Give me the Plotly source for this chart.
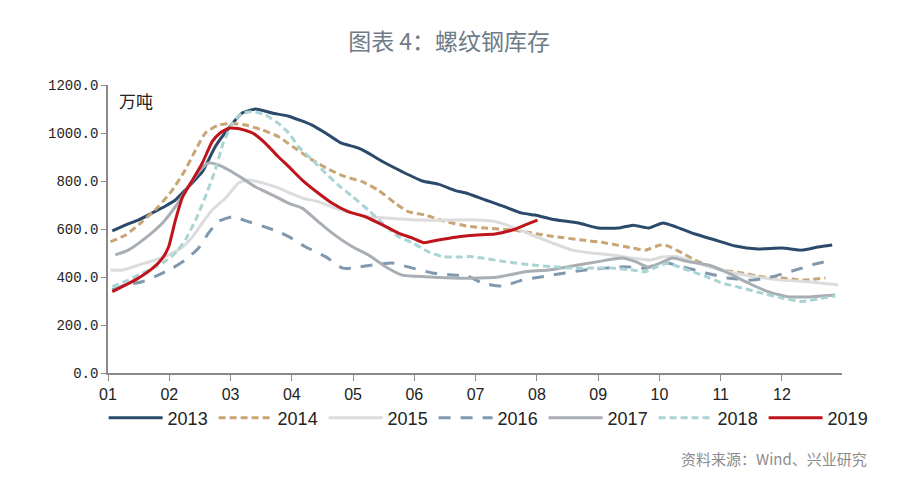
import plotly.graph_objects as go

# x positions in months (1 = start of Jan), values in 万吨
months_2013 = [1.07, 1.29, 1.50, 1.73, 1.94, 2.10, 2.26, 2.54, 2.75, 2.97, 3.19, 3.41, 3.68, 3.95, 4.33, 4.55, 4.79,
               5.09, 5.25, 5.48, 5.80, 6.13, 6.39, 6.67, 6.83, 7.16, 7.32, 7.76, 7.97, 8.25, 8.68, 9.00, 9.33, 9.57,
               9.82, 9.93, 10.06, 10.26, 10.58, 10.91, 11.24, 11.61, 12.00, 12.33, 12.59, 12.82]
inv_2013 = [592, 617, 638, 668, 696, 721, 762, 839, 943, 1020, 1083, 1100, 1083, 1070, 1033, 1000, 960,
            937, 916, 881, 839, 800, 787, 760, 751, 721, 707, 666, 658, 641, 625, 604, 604, 616,
            604, 614, 625, 610, 579, 554, 529, 517, 521, 512, 525, 533]

months_2014 = [1.04, 1.29, 1.56, 1.82, 2.05, 2.26, 2.43, 2.59, 2.80, 3.03, 3.24, 3.52, 3.78, 3.95, 4.34, 4.60, 4.87,
               5.15, 5.41, 5.69, 5.90, 6.18, 6.51, 6.91, 7.16, 7.60, 7.92, 8.30, 8.74, 9.12, 9.56, 9.77, 10.01,
               10.14, 10.37, 10.58, 10.80, 11.02, 11.35, 11.67, 12.00, 12.33, 12.71]
inv_2014 = [547, 575, 631, 693, 762, 846, 929, 1000, 1033, 1040, 1033, 1013, 985, 955, 887, 849, 818,
            797, 762, 707, 672, 658, 631, 610, 604, 596, 583, 568, 554, 542, 521, 512, 533,
            529, 500, 471, 446, 429, 417, 401, 396, 387, 396]

months_2015 = [1.04, 1.24, 1.50, 1.77, 1.99, 2.22, 2.38, 2.54, 2.70, 2.92, 3.13, 3.29, 3.52, 3.78, 3.95, 4.17, 4.43,
               4.71, 4.99, 5.25, 5.53, 6.07, 6.62, 6.91, 7.27, 7.65, 7.92, 8.25, 8.58, 8.90, 9.23, 9.56, 9.85,
               10.05, 10.26, 10.47, 10.80, 11.12, 11.56, 12.00, 12.43, 12.92]
inv_2015 = [429, 429, 450, 471, 492, 526, 568, 625, 679, 729, 792, 804, 792, 771, 752, 729, 714,
            687, 666, 651, 646, 637, 637, 639, 633, 604, 575, 542, 512, 500, 492, 479, 471,
            483, 485, 471, 443, 422, 401, 387, 380, 367]

months_2016 = [1.07, 1.29, 1.56, 1.82, 2.05, 2.26, 2.48, 2.64, 2.80, 3.03, 3.24, 3.52, 3.78, 3.95, 4.22, 4.55, 4.83,
               4.99, 5.31, 5.64, 5.97, 6.29, 6.62, 6.87, 7.11, 7.44, 7.76, 8.09, 8.46, 8.79, 9.12, 9.44, 9.77,
               9.93, 10.06, 10.37, 10.75, 11.12, 11.51, 11.84, 12.22, 12.54, 12.82]
inv_2016 = [346, 367, 380, 408, 437, 471, 521, 583, 631, 651, 635, 612, 589, 568, 526, 485, 437,
            437, 450, 458, 437, 417, 408, 404, 375, 362, 387, 401, 417, 429, 437, 443, 437,
            450, 461, 443, 417, 396, 387, 401, 429, 454, 471]

months_2017 = [1.12, 1.33, 1.61, 1.89, 2.10, 2.31, 2.48, 2.64, 2.80, 2.97, 3.19, 3.41, 3.68, 3.95, 4.17, 4.43, 4.66,
               4.99, 5.25, 5.53, 5.80, 6.18, 6.62, 6.91, 7.37, 7.81, 8.19, 8.58, 9.00, 9.39, 9.61, 9.82, 10.01,
               10.21, 10.47, 10.80, 11.12, 11.45, 11.77, 12.09, 12.43, 12.87]
inv_2017 = [492, 512, 562, 625, 693, 776, 839, 875, 867, 846, 812, 775, 742, 707, 687, 631, 583,
            526, 492, 443, 408, 401, 396, 395, 400, 422, 429, 446, 464, 479, 464, 441, 458,
            479, 464, 450, 417, 375, 339, 318, 317, 325]

months_2018 = [1.07, 1.33, 1.61, 1.89, 2.10, 2.26, 2.43, 2.59, 2.75, 2.88, 3.03, 3.19, 3.36, 3.57, 3.78, 3.95, 4.11,
               4.34, 4.55, 4.76, 4.99, 5.25, 5.48, 5.74, 5.97, 6.23, 6.46, 6.72, 6.91, 7.11, 7.48, 7.92, 8.25,
               8.58, 8.90, 9.23, 9.56, 9.77, 9.97, 10.14, 10.37, 10.70, 11.02, 11.35, 11.67, 12.00, 12.33,
               12.66, 12.87]
inv_2018 = [360, 387, 422, 458, 500, 554, 637, 735, 846, 957, 1040, 1083, 1089, 1075, 1040, 1000, 943,
            887, 833, 783, 735, 679, 625, 568, 542, 505, 485, 483, 485, 479, 464, 450, 443,
            437, 437, 437, 429, 422, 443, 458, 437, 408, 375, 354, 333, 312, 298,
            312, 321]

months_2019 = [1.07, 1.29, 1.50, 1.73, 1.89, 1.99, 2.10, 2.22, 2.38, 2.54, 2.70, 2.83, 2.97, 3.16, 3.36, 3.57, 3.78,
               3.95, 4.17, 4.43, 4.66, 4.92, 5.20, 5.48, 5.74, 5.97, 6.15, 6.39, 6.67, 6.91, 7.04, 7.32, 7.60,
               7.81, 8.01]
inv_2019 = [339, 367, 396, 437, 479, 526, 637, 735, 804, 875, 964, 1000, 1020, 1017, 1000, 957, 901,
            860, 804, 750, 707, 672, 651, 617, 583, 562, 543, 554, 566, 573, 575, 579, 596,
            617, 637]

years = ["2013", "2014", "2015", "2016", "2017", "2018", "2019"]
xs = [months_2013, months_2014, months_2015, months_2016, months_2017, months_2018, months_2019]
ys = [inv_2013, inv_2014, inv_2015, inv_2016, inv_2017, inv_2018, inv_2019]

tick_vals = list(range(1, 13))
tick_text = ["01", "02", "03", "04", "05", "06", "07", "08", "09", "10", "11", "12"]
y_ticks = [0, 200, 400, 600, 800, 1000, 1200]

styles = {
    "2013": dict(color="#2B4A6B", width=3, dash="solid"),
    "2014": dict(color="#C9A474", width=3, dash="7px,4px"),
    "2015": dict(color="#DCDCDC", width=3, dash="solid"),
    "2016": dict(color="#8199AE", width=3, dash="12px,10px"),
    "2017": dict(color="#A8AEB4", width=3, dash="solid"),
    "2018": dict(color="#AAD4D4", width=3, dash="7px,4px"),
    "2019": dict(color="#C0141C", width=3, dash="solid"),
}

fig = go.Figure()
for name, x, y in zip(years, xs, ys):
    st = styles[name]
    fig.add_trace(go.Scatter(
        x=x, y=y, name=name, mode="lines",
        line=dict(color=st["color"], width=st["width"], dash=st["dash"], shape="spline", smoothing=0.5),
    ))

fig.update_layout(
    width=900, height=480,
    margin=dict(l=108, r=58, t=85, b=107, autoexpand=False),
    paper_bgcolor="white", plot_bgcolor="white",
    title=dict(text="图表 4：螺纹钢库存", x=0.499, xanchor="center", y=1 - 42 / 480, yanchor="middle",
               font=dict(family="Noto Sans CJK SC", size=23, color="#6F7B88")),
    xaxis=dict(range=[1, 12.98], tickvals=tick_vals, ticktext=tick_text, showgrid=False, zeroline=False,
               showline=True, linecolor="#8A8A8A", linewidth=1.5, ticks="outside", ticklen=6,
               tickcolor="#8A8A8A", tickwidth=1.2,
               tickfont=dict(family="Liberation Sans", size=16, color="#222")),
    yaxis=dict(range=[0, 1200], tickvals=y_ticks, tickformat=".1f", showgrid=False, zeroline=False,
               showline=True, linecolor="#8A8A8A", linewidth=1.5, ticks="outside", ticklen=5,
               tickcolor="#8A8A8A", tickwidth=1.2,
               tickfont=dict(family="Liberation Mono, DejaVu Sans Mono", size=14, color="#222")),
    legend=dict(orientation="h", xref="paper", yref="paper", x=-0.006, xanchor="left",
                y=-(418 - 373) / 288, yanchor="middle", itemwidth=54, entrywidth=41, entrywidthmode="pixels",
                font=dict(family="Liberation Sans", size=18, color="#222"),
                bgcolor="rgba(0,0,0,0)", tracegroupgap=0),
    showlegend=True,
)

fig.add_annotation(text="万吨", xref="paper", yref="paper", x=0.012, y=(373 - 100) / 288, xanchor="left",
                   yanchor="middle", showarrow=False,
                   font=dict(family="Noto Sans CJK SC", size=17, color="#222"))
fig.add_annotation(text="资料来源：Wind、兴业研究", xref="paper", yref="paper", x=(869 - 108) / 734,
                   y=-(458 - 373) / 288, xanchor="right", yanchor="middle", showarrow=False,
                   font=dict(family="Noto Sans CJK SC", size=15, color="#8C8C8C"))

fig.write_html("out.html")
